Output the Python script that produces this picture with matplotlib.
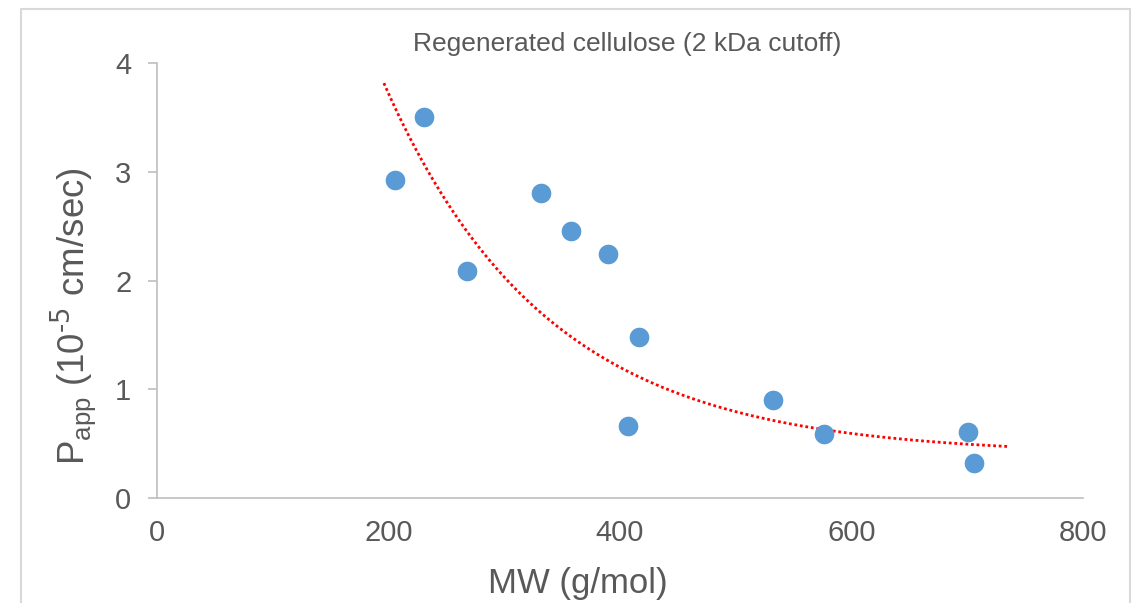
import numpy as np
import matplotlib.pyplot as plt
from matplotlib.patches import Rectangle

# MW (g/mol) and Papp (1e-5 cm/sec)
mw = [206, 231, 268, 332, 358, 390, 416, 407, 532, 576, 701, 706]
papp = [2.93, 3.51, 2.09, 2.81, 2.46, 2.25, 1.48, 0.66, 0.90, 0.59, 0.61, 0.32]

# trend curve y = c + a*exp(-k*x), parameters
trend_range = [196, 736]
trend_a = 13.75
trend_k = 0.0071
trend_c = 0.40

plt.rcParams['font.family'] = ['Liberation Sans', 'DejaVu Sans']
grey = '#595959'

fig = plt.figure(figsize=(11.42, 6.03), dpi=100)
ax = fig.add_axes([0.1375, 0.1741, 0.8108, 0.7206])

ax.scatter(mw, papp, s=200, color='#5B9BD5', zorder=3, linewidths=0)

xs = np.linspace(trend_range[0], trend_range[1], 200)
ax.plot(xs, trend_c + trend_a * np.exp(-trend_k * xs), ls=(0, (1, 1)), lw=2, color='#FF0000')

ax.set_xlim(0, 800)
ax.set_ylim(0, 4)
ax.set_xticks([0, 200, 400, 600, 800])
ax.set_yticks([0, 1, 2, 3, 4])
for s in ['top', 'right']:
    ax.spines[s].set_visible(False)
for s in ['left', 'bottom']:
    ax.spines[s].set_color('#BFBFBF')
    ax.spines[s].set_linewidth(1.2)
ax.tick_params(axis='y', length=6.5, width=1.2, color='#BFBFBF', pad=12, labelsize=21, labelcolor=grey)
ax.tick_params(axis='x', length=0, pad=15, labelsize=21, labelcolor=grey)

fig.text(0.5495, 0.9154, 'Regenerated cellulose (2 kDa cutoff)', ha='center', va='baseline',
         fontsize=19, color=grey)
fig.text(0.506, 0.0166, 'MW (g/mol)', ha='center', va='baseline', fontsize=25, color=grey)
fig.text(0.0744, 0.476, r'P$_{\mathregular{app}}$ (10$^{\text{-5}}$ cm/sec)', rotation=90,
         rotation_mode='anchor', ha='center', va='baseline', fontsize=26.5, color=grey)

# light border of the chart area (its bottom edge is cut off in the reference)
fig.patches.append(Rectangle((21 / 1142, -0.1), 1109 / 1142, 1.1 - 9 / 603, transform=fig.transFigure,
                             fill=False, edgecolor='#D9D9D9', linewidth=1.5))

fig.savefig('out.png', dpi=100)
